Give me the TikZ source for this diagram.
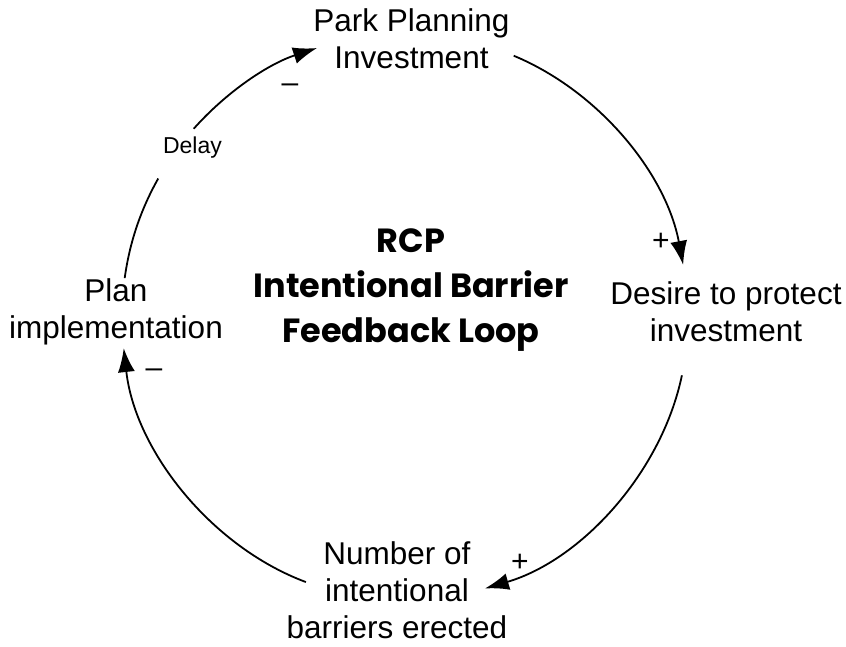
\documentclass[tikz,border=0pt]{standalone}
\usepackage{fontspec}
\setmainfont{Liberation Sans}
\newfontfamily\titlefont{Poppins}
\usetikzlibrary{arrows.meta}

\begin{document}
\begin{tikzpicture}[x=1pt, y=1pt,
  lbl/.style={align=center, inner sep=0pt, font=\fontsize{31.5}{37}\selectfont},
  sgn/.style={inner sep=0pt, font=\fontsize{30}{32}\selectfont},
  link/.style={line width=1.8pt, looseness=0.88},
  tip/.style={-{Latex[length=24pt, width=17pt]}}]
\useasboundingbox (0,0) rectangle (846,-647);
\coordinate (cen) at (405,-317);
\node[lbl] (park) at (411.5,-39){Park Planning\\Investment};
\node[lbl] (desire) at (726,-312){Desire to protect\\investment};
\node[lbl] (number) at (397,-590.5){Number of\\intentional\\barriers erected};
\node[lbl] (plan) at (116,-312){Plan\\implementation};
\node[inner sep=0pt, font=\fontsize{23}{25}\selectfont] (delay) at (192.5,-148){Delay};
\node[align=center, inner sep=0pt, font=\titlefont\bfseries\fontsize{33.5}{45}\selectfont] (title) at (411,-290){RCP\\Intentional Barrier\\Feedback Loop};
% arc end points on the loop
\coordinate (plan-out) at ([shift={(172.1:283)}]cen);
\coordinate (delay-in) at ([shift={(150.7:283)}]cen);
\coordinate (delay-out) at ([shift={(138.3:283)}]cen);
\coordinate (park-in) at ([shift={(108.1:283)}]cen);
\coordinate (park-out) at ([shift={(67.4:283)}]cen);
\coordinate (desire-in) at ([shift={(10.6:283)}]cen);
\coordinate (desire-out) at ([shift={(-11.9:283)}]cen);
\coordinate (number-in) at ([shift={(-73.6:283)}]cen);
\coordinate (number-out) at ([shift={(-110.5:283)}]cen);
\coordinate (plan-in) at ([shift={(-173.7:283)}]cen);
\draw[link] (plan-out) to[bend left=10.7] (delay-in);
\draw[link, tip] (delay-out) to[bend left=15.1] (park-in);
\draw[link, tip] (park-out) to[bend left=28.4] (desire-in);
\draw[link, tip] (desire-out) to[bend left=30.9] (number-in);
\draw[link, tip] (number-out) to[bend left=31.6] (plan-in);
\node[sgn] (s1) at (290,-88){--};
\node[sgn] (s2) at (661,-242){+};
\node[sgn] (s3) at (520,-563){+};
\node[sgn] (s4) at (154,-373){--};
\end{tikzpicture}
\end{document}
